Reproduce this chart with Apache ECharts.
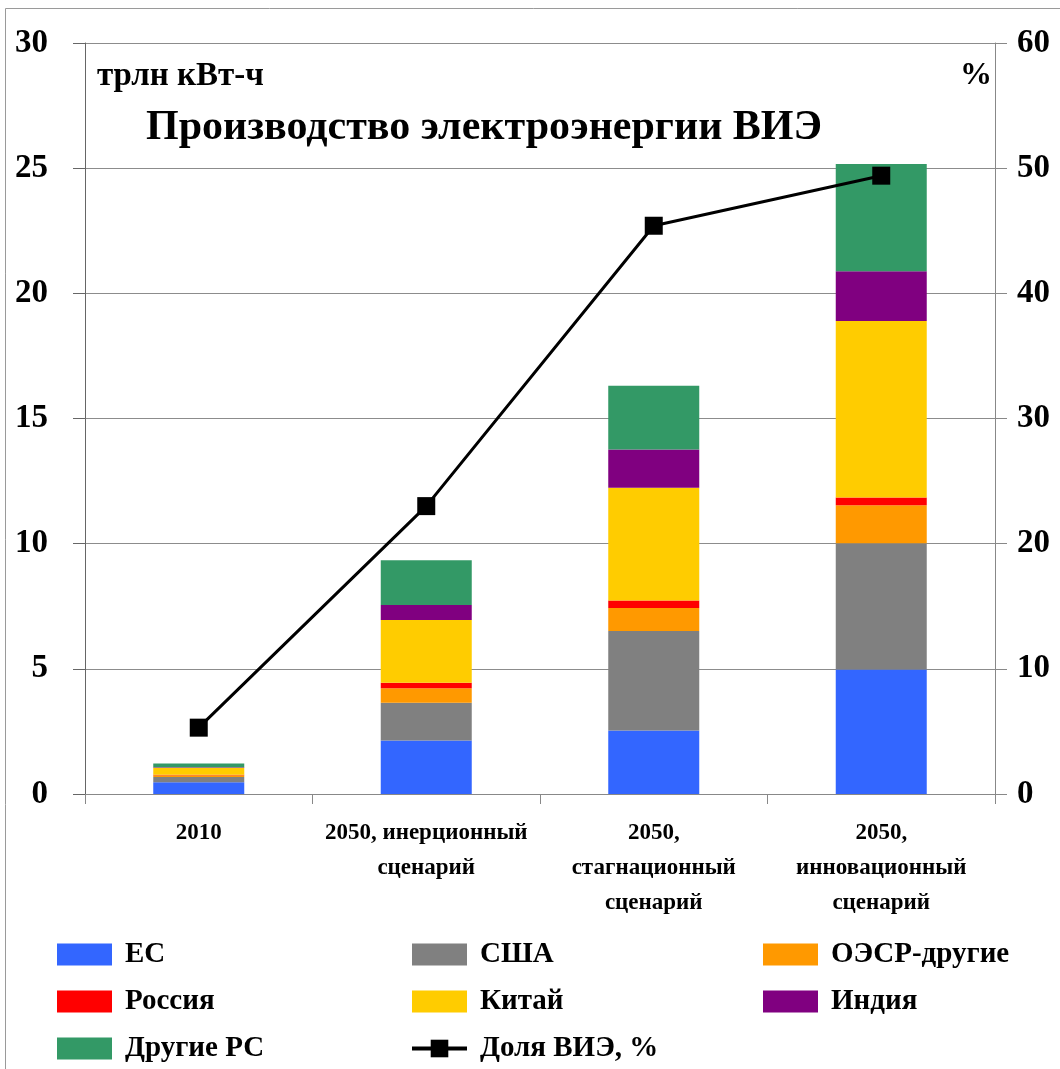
<!DOCTYPE html>
<html>
<head>
<meta charset="utf-8">
<script src="https://cdn.jsdelivr.net/npm/echarts@6/dist/echarts.min.js"></script>
<style>
  html, body { margin: 0; padding: 0; background: #fff; }
  #chart { width: 1060px; height: 1069px; }
</style>
</head>
<body>
<div id="chart"></div>
<script>
  // categories on the x axis
  const categories = [
    '2010',
    '2050, инерционный\nсценарий',
    '2050,\nстагнационный\nсценарий',
    '2050,\nинновационный\nсценарий'
  ];

  // stacked bars, trillion kWh
  const eu = [0.47, 2.14, 2.54, 4.97];
  const usa = [0.21, 1.51, 3.97, 5.05];
  const oecdOther = [0.07, 0.57, 0.92, 1.51];
  const russia = [0.02, 0.22, 0.30, 0.31];
  const china = [0.28, 2.51, 4.50, 7.05];
  const india = [0.02, 0.60, 1.53, 1.99];
  const otherDev = [0.15, 1.79, 2.55, 4.29];

  // share of renewables, %
  const share = [5.3, 23.0, 45.4, 49.4];

  const leftTicks = [0, 5, 10, 15, 20, 25, 30];
  const rightTicks = [0, 10, 20, 30, 40, 50, 60];

  const font = '"Liberation Serif", "Times New Roman", serif';

  const chart = echarts.init(document.getElementById('chart'));

  function barSeries(name, data, color) {
    return {
      name: name,
      type: 'bar',
      stack: 'total',
      barWidth: '40%',
      itemStyle: { color: color },
      data: data,
      animation: false
    };
  }

  const legendText = {
    fontFamily: font, fontWeight: 'bold', fontSize: 29, color: '#000',
    padding: [0, 0, 0, 8]
  };

  function legendCol(left, names) {
    return {
      orient: 'vertical', left: left, top: 940, padding: 0,
      itemWidth: 55, itemHeight: 22, itemGap: 18,
      textStyle: legendText,
      lineStyle: { width: 4 },
      data: names.map(n => n === 'Доля ВИЭ, %' ? { name: n } : { name: n, icon: 'rect' })
    };
  }

  chart.setOption({
    backgroundColor: '#fff',
    animation: false,
    grid: { left: 85, right: 65, top: 43, bottom: 275 },
    title: {
      text: 'Производство электроэнергии ВИЭ',
      left: 141, top: 102,
      textStyle: { fontFamily: font, fontWeight: 'bold', fontSize: 42, color: '#000' }
    },
    graphic: [
      {
        type: 'rect',
        shape: { x: 5.5, y: 8.5, width: 1100, height: 1100 },
        style: { fill: 'none', stroke: '#9a9a9a', lineWidth: 1 }
      },
      {
        type: 'text', left: 97, top: 60,
        style: { text: 'трлн кВт-ч', font: 'bold 33px ' + font, fill: '#000' }
      },
      {
        type: 'text', left: 960, top: 60,
        style: { text: '%', font: 'bold 32px ' + font, fill: '#000' }
      }
    ],
    legend: [
      legendCol(57, ['ЕС', 'Россия', 'Другие РС']),
      legendCol(410, ['США', 'Китай', 'Доля ВИЭ, %']),
      legendCol(763, ['ОЭСР-другие', 'Индия'])
    ],
    xAxis: {
      type: 'category',
      data: categories,
      axisLine: { lineStyle: { color: '#888', width: 1 } },
      axisTick: { show: true, length: 10, lineStyle: { color: '#888' } },
      axisLabel: {
        fontFamily: font, fontWeight: 'bold', fontSize: 23, color: '#000',
        lineHeight: 35, margin: 22, interval: 0
      }
    },
    yAxis: [
      {
        type: 'value', min: 0, max: 30, interval: 5,
        axisLine: { show: true, lineStyle: { color: '#666', width: 1 } },
        axisTick: { show: true, length: 12, lineStyle: { color: '#666' } },
        splitLine: { show: true, lineStyle: { color: '#8c8c8c', width: 1 } },
        axisLabel: {
          fontFamily: font, fontWeight: 'bold', fontSize: 33, color: '#000', margin: 37,
          formatter: v => leftTicks.includes(v) ? String(v) : ''
        }
      },
      {
        type: 'value', min: 0, max: 60, interval: 10,
        axisLine: { show: true, lineStyle: { color: '#888', width: 1 } },
        axisTick: { show: true, length: 12, lineStyle: { color: '#888' } },
        splitLine: { show: false },
        axisLabel: {
          fontFamily: font, fontWeight: 'bold', fontSize: 33, color: '#000', margin: 22,
          formatter: v => rightTicks.includes(v) ? String(v) : ''
        }
      }
    ],
    series: [
      barSeries('ЕС', eu, '#3366ff'),
      barSeries('США', usa, '#808080'),
      barSeries('ОЭСР-другие', oecdOther, '#ff9900'),
      barSeries('Россия', russia, '#ff0000'),
      barSeries('Китай', china, '#ffcc00'),
      barSeries('Индия', india, '#800080'),
      barSeries('Другие РС', otherDev, '#339966'),
      {
        name: 'Доля ВИЭ, %',
        type: 'line',
        yAxisIndex: 1,
        data: share,
        symbol: 'rect',
        symbolSize: 18,
        z: 10,
        lineStyle: { color: '#000', width: 3 },
        itemStyle: { color: '#000' },
        animation: false
      }
    ]
  });
</script>
</body>
</html>
